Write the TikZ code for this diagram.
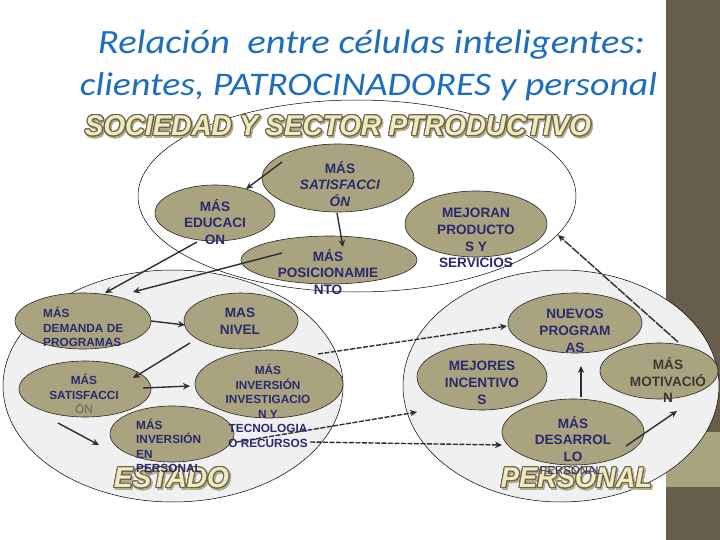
\documentclass[tikz,border=0pt]{standalone}
\usepackage{fontspec}
\setmainfont{Liberation Sans}
\newfontfamily\titlef{Carlito}
\usepackage[copies]{contour}
\usetikzlibrary{shapes.geometric,arrows.meta}
\definecolor{titleblue}{HTML}{1E6EBE}
\definecolor{navy}{HTML}{2A2A70}
\definecolor{olive}{HTML}{A9A47F}
\definecolor{bard}{HTML}{665E4A}
\definecolor{barl}{HTML}{A9A37E}
\definecolor{bigfill}{HTML}{F0F0F0}
\definecolor{cream}{HTML}{F0EABC}
\definecolor{outl}{HTML}{6A6550}
\definecolor{shad}{HTML}{B3AC8A}
\definecolor{arrowc}{HTML}{2E2E2E}
\definecolor{motc}{HTML}{3A3A30}
\contourlength{0.4pt}
\newcommand{\outlined}[3]{\resizebox{#1}{#2}{\textcolor{cream}{\contour{outl}{\bfseries\itshape #3}}}}
\newcommand{\shadowed}[3]{\resizebox{#1}{#2}{\textcolor{shad}{\contour{shad}{\bfseries\itshape #3}}}}
\tikzset{
  cell/.style={ellipse, draw=black!85, line width=0.6pt, fill=olive, inner sep=0pt},
  bigell/.style={ellipse, draw=black, line width=0.5pt, inner sep=0pt},
  lblbig/.style={text=navy, font=\bfseries\fontsize{13.6}{16.8}\selectfont, align=center, inner sep=0pt},
  lblsmall/.style={text=navy, font=\bfseries\fontsize{11.8}{14.5}\selectfont, align=center, inner sep=0pt},
  conn/.style={draw=arrowc, line width=1.4pt, -{Stealth[length=7pt,width=6.5pt]}},
  dconn/.style={conn, dash pattern=on 5pt off 1.5pt},
  ldconn/.style={conn, dash pattern=on 9pt off 1.2pt},
  outl/.style={inner sep=0pt}
}
\begin{document}
\begin{tikzpicture}[x=1pt,y=-1pt]
\useasboundingbox (0,0) rectangle (720,540);
\fill[white] (0,0) rectangle (720,540);
% right bar
\fill[bard] (666,0) rectangle (720,432);
\fill[barl] (666,432) rectangle (720,487);
\fill[bard] (666,487) rectangle (720,540);
% big ellipses
\node[bigell, minimum width=438pt, minimum height=192pt] (soc) at (357,196) {};
\node[bigell, fill=bigfill, minimum width=340pt, minimum height=232pt] (est) at (173,386) {};
\node[bigell, fill=bigfill, minimum width=316pt, minimum height=232pt] (per) at (561,386) {};
% cells
\node[cell, minimum width=152pt, minimum height=68pt] (satT) at (338,178) {};
\node[cell, minimum width=120pt, minimum height=56pt] (edu) at (215,213) {};
\node[cell, minimum width=176pt, minimum height=48pt] (pos) at (329,260) {};
\node[cell, minimum width=142pt, minimum height=66pt] (mej) at (476,224) {};
\node[cell, minimum width=136pt, minimum height=56pt] (dem) at (83,321) {};
\node[cell, minimum width=114pt, minimum height=56pt] (niv) at (241,321) {};
\node[cell, minimum width=132pt, minimum height=56pt] (satE) at (85,389) {};
\node[cell, minimum width=148pt, minimum height=68pt] (inv) at (269,384) {};
\node[cell, minimum width=124pt, minimum height=56pt] (ip) at (172,434) {};
\node[cell, minimum width=134pt, minimum height=60pt] (nue) at (575,323) {};
\node[cell, minimum width=130pt, minimum height=66pt] (inc) at (482,377) {};
\node[cell, minimum width=118pt, minimum height=56pt] (mot) at (659,371) {};
\node[cell, minimum width=142pt, minimum height=66pt] (des) at (573,432) {};
% connector ends
\coordinate (a1s) at (282,162); \coordinate (a1e) at (246,189);
\coordinate (a2s) at (337,213); \coordinate (a2e) at (343,247);
\coordinate (a3s) at (197,242); \coordinate (a3e) at (105,293);
\coordinate (a4s) at (282,253); \coordinate (a4e) at (133,292);
\coordinate (a5s) at (151,321); \coordinate (a5e) at (185,325);
\coordinate (a6s) at (190,343); \coordinate (a6e) at (133,378);
\coordinate (a7s) at (143,388); \coordinate (a7e) at (190,386);
\coordinate (a8s) at (58,423);  \coordinate (a8e) at (99,445);
\coordinate (a9s) at (318,354); \coordinate (a9e) at (507,326);
\coordinate (a10s) at (237,442); \coordinate (a10e) at (417,412);
\coordinate (a11s) at (310,442); \coordinate (a11e) at (502,445);
\coordinate (a12s) at (581,397); \coordinate (a12e) at (581,366);
\coordinate (a13s) at (626,446); \coordinate (a13e) at (677,411);
\coordinate (a14s) at (678,342); \coordinate (a14e) at (558,235);
\draw[conn] (a1s) -- (a1e);
\draw[conn] (a2s) -- (a2e);
\draw[conn] (a3s) -- (a3e);
\draw[conn] (a4s) -- (a4e);
\draw[conn] (a5s) -- (a5e);
\draw[conn] (a6s) -- (a6e);
\draw[conn] (a7s) -- (a7e);
\draw[conn] (a8s) -- (a8e);
\draw[dconn] (a9s) -- (a9e);
\draw[dconn] (a10s) -- (a10e);
\draw[dconn] (a11s) -- (a11e);
\draw[conn] (a12s) -- (a12e);
\draw[conn] (a13s) -- (a13e);
\draw[ldconn] (a14s) -- (a14e);
% outlined labels
\node[outl] (socS) at (339.5,128) {\shadowed{506pt}{20pt}{SOCIEDAD Y SECTOR PTRODUCTIVO}};
\node[outl] (socT) at (338,126.5) {\outlined{506pt}{20pt}{SOCIEDAD Y SECTOR PTRODUCTIVO}};
\node[outl] (estS) at (173,480) {\shadowed{115pt}{20pt}{ESTADO}};
\node[outl] (estT) at (171.5,478.5) {\outlined{115pt}{20pt}{ESTADO}};
\node[outl] (perS) at (578,480) {\shadowed{151pt}{20pt}{PERSONAL}};
\node[outl] (perT) at (576.5,478.5) {\outlined{151pt}{20pt}{PERSONAL}};
% cell texts
\node[lblbig] (tsatT) at (340,184) {MÁS\\\textit{SATISFACCI}\\\textit{ÓN}};
\node[lblbig] (tedu) at (215,222) {MÁS\\EDUCACI\\ON};
\node[lblbig] (tpos) at (328,272) {MÁS\\POSICIONAMIE\\NTO};
\node[lblbig] (tmej) at (476,238) {MEJORAN\\PRODUCTO\\S Y\\SERVICIOS};
\node[lblsmall, align=left, anchor=west] (tdem) at (43,327) {MÁS\\DEMANDA DE\\PROGRAMAS};
\node[lblbig] (tniv) at (240,321.5) {MAS\\NIVEL};
\node[lblsmall] (tsatE) at (84,394) {MÁS\\SATISFACCI\\{\mdseries\color{black!60}ÓN}};
\node[lblsmall] (tinv) at (268,406) {MÁS\\INVERSIÓN\\INVESTIGACIO\\N Y\\TECNOLOGIA\\O RECURSOS};
\node[lblsmall, align=left, anchor=west] (tip) at (136,446) {MÁS\\INVERSIÓN\\EN\\PERSONAL};
\node[lblbig] (tnue) at (575,331) {NUEVOS\\PROGRAM\\AS};
\node[lblbig] (tinc) at (482,383) {MEJORES\\INCENTIVO\\S};
\node[lblbig, text=motc] (tmot) at (668,380) {MÁS\\MOTIVACIÓ\\N};
\node[lblbig] (tdes) at (573,439) {MÁS\\DESARROL\\LO};
\node[text=navy, font=\fontsize{11.4}{13}\selectfont, inner sep=0pt] (tdes2) at (571,471) {PERSONAL};
% title
\node[anchor=base, inner sep=0pt, text=titleblue, font=\titlef\itshape\fontsize{34}{40}\selectfont] (t1) at (371.5,54) {\resizebox{547pt}{\height}{Relación\ \ entre células inteligentes:}};
\node[anchor=base, inner sep=0pt, text=titleblue, font=\titlef\itshape\fontsize{33}{40}\selectfont] (t2) at (368.5,96) {\resizebox{577pt}{\height}{clientes, PATROCINADORES y personal}};
\end{tikzpicture}
\end{document}
